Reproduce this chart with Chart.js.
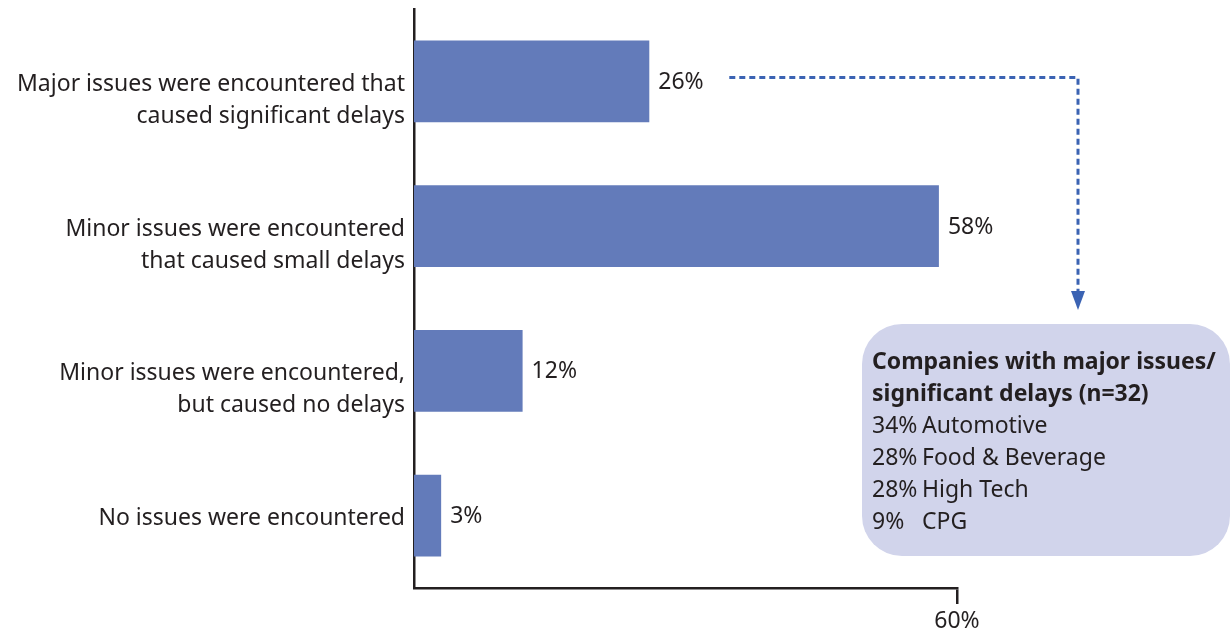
<!DOCTYPE html>
<html>
<head>
<meta charset="utf-8">
<script src="https://cdn.jsdelivr.net/npm/chart.js@4.4.1/dist/chart.umd.min.js"></script>
<style>
    html, body { margin: 0; padding: 0; background: #fff; }
    #wrap { width: 1232px; height: 630px; }
</style>
</head>
<body>
<div id="wrap"><canvas id="issuesChart" width="1232" height="630"></canvas></div>
<script>
    "use strict";

    // data
    var issueLabels = [
        ['Major issues were encountered that', 'caused significant delays'],
        ['Minor issues were encountered', 'that caused small delays'],
        ['Minor issues were encountered,', 'but caused no delays'],
        ['No issues were encountered']
    ];
    var issueShares = [26, 58, 12, 3];
    var axisTicks = [60];

    var noteTitle = ['Companies with major issues/', 'significant delays (n=32)'];
    var noteShares = ['34%', '28%', '28%', '9%'];
    var noteSectors = ['Automotive', 'Food & Beverage', 'High Tech', 'CPG'];

    var inkColor = '#231f20';
    var barColor = '#637bba';
    var arrowColor = '#3b63b3';
    var noteFill = '#d1d4eb';
    var fontName = '"Noto Sans", "Open Sans", sans-serif';
    var fontSize = 23;

    // value labels next to bars + callout box with dotted arrow
    const annotatePlugin = {
        id: 'annotate',
        afterDatasetsDraw(chart) {
            const ctx = chart.ctx;
            const bars = chart.getDatasetMeta(0).data;

            ctx.save();
            ctx.fillStyle = inkColor;
            ctx.font = fontSize + 'px ' + fontName;
            ctx.textBaseline = 'middle';
            ctx.textAlign = 'left';
            bars.forEach((bar, i) => {
                ctx.fillText(issueShares[i] + '%', bar.x + 9, bar.y + 1);
            });

            // dotted arrow from the first bar to the box
            const first = bars[0];
            const startX = first.x + 80;
            const lineY = first.y - 4;
            const turnX = 1078;
            const tipY = 310;
            ctx.strokeStyle = arrowColor;
            ctx.lineWidth = 3;
            ctx.setLineDash([6, 4]);
            ctx.beginPath();
            ctx.moveTo(startX, lineY);
            ctx.lineTo(turnX, lineY);
            ctx.lineTo(turnX, tipY - 14);
            ctx.stroke();
            ctx.setLineDash([]);
            ctx.fillStyle = arrowColor;
            ctx.beginPath();
            ctx.moveTo(turnX - 7, tipY - 19);
            ctx.lineTo(turnX + 7, tipY - 19);
            ctx.lineTo(turnX, tipY);
            ctx.closePath();
            ctx.fill();

            // callout box
            const bx = 862, by = 324, bw = 368, bh = 232;
            ctx.fillStyle = noteFill;
            ctx.beginPath();
            ctx.roundRect(bx, by, bw, bh, 40);
            ctx.fill();

            ctx.fillStyle = inkColor;
            ctx.textBaseline = 'middle';
            let y = by + 38;
            ctx.font = 'bold ' + fontSize + 'px ' + fontName;
            noteTitle.forEach(line => {
                ctx.fillText(line, bx + 10, y);
                y += 32;
            });
            ctx.font = fontSize + 'px ' + fontName;
            noteShares.forEach((share, i) => {
                ctx.fillText(share, bx + 10, y);
                ctx.fillText(noteSectors[i], bx + 60, y);
                y += 32;
            });
            ctx.restore();
        }
    };

    var ctxIssues = document.getElementById('issuesChart').getContext('2d');

    var issuesChart = new Chart(ctxIssues, {
        type: 'bar',
        data: {
            labels: issueLabels,
            datasets: [{
                data: issueShares,
                backgroundColor: barColor,
                barPercentage: 0.566,
                categoryPercentage: 1
            }]
        },
        options: {
            indexAxis: 'y',
            responsive: false,
            animation: false,
            events: [],
            layout: {
                padding: { top: 9, right: 275, left: 0, bottom: 0 }
            },
            plugins: {
                legend: { display: false },
                tooltip: { enabled: false }
            },
            scales: {
                x: {
                    min: 0,
                    max: 60,
                    afterBuildTicks: scale => {
                        scale.ticks = axisTicks.map(v => ({ value: v }));
                    },
                    afterFit: scale => {
                        scale.height = 42;
                        scale.paddingLeft = 0;
                        scale.paddingRight = 0;
                    },
                    grid: {
                        drawOnChartArea: false,
                        drawTicks: true,
                        tickLength: 16,
                        color: inkColor,
                        lineWidth: 2.5
                    },
                    border: { display: true, color: inkColor, width: 2.5 },
                    ticks: {
                        padding: 4,
                        color: inkColor,
                        font: { family: fontName, size: fontSize },
                        callback: value => value + '%'
                    }
                },
                y: {
                    afterFit: scale => {
                        scale.width = 414;
                        scale.paddingTop = 0;
                        scale.paddingBottom = 0;
                    },
                    grid: { display: false, drawTicks: false },
                    border: { display: true, color: inkColor, width: 2.5 },
                    ticks: {
                        padding: 9,
                        labelOffset: 3,
                        color: inkColor,
                        font: { family: fontName, size: fontSize, lineHeight: 32 / fontSize },
                        // two-line labels sit with their first line level with the bar
                        callback: function (value, index) {
                            var lines = issueLabels[index];
                            return lines.length > 1 ? [''].concat(lines) : lines;
                        }
                    }
                }
            }
        },
        plugins: [annotatePlugin]
    });
</script>
</body>
</html>
